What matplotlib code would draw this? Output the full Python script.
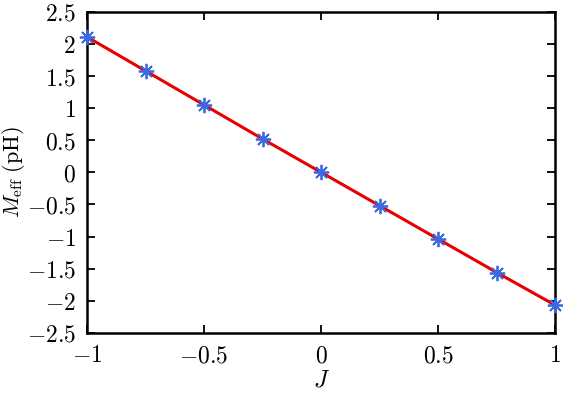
import numpy as np
import matplotlib
matplotlib.use("Agg")
import matplotlib.pyplot as plt
from matplotlib.ticker import FuncFormatter

plt.rcParams["mathtext.fontset"] = "cm"
plt.rcParams["font.family"] = "serif"
plt.rcParams["font.serif"] = ["DejaVu Serif"]

# data
J = [-1, -0.75, -0.5, -0.25, 0, 0.25, 0.5, 0.75, 1]
M_eff = [2.11, 1.58, 1.05, 0.52, 0.0, -0.52, -1.04, -1.56, -2.07]

xticks = [-1, -0.5, 0, 0.5, 1]
yticks = [-2.5, -2, -1.5, -1, -0.5, 0, 0.5, 1, 1.5, 2, 2.5]

fig = plt.figure(figsize=(5.63, 3.94), dpi=100)
ax = fig.add_axes([0.1545, 0.155, 0.832, 0.815])

ax.plot(J, M_eff, color="#e60000", lw=2.2, zorder=2)
ax.plot(J, M_eff, ls="none", marker=(8, 2, 0), ms=11, mew=1.3,
        color="#3d68e0", zorder=3, clip_on=False)

ax.set_xlim(-1, 1)
ax.set_ylim(-2.5, 2.5)
ax.set_xticks(xticks)
ax.set_yticks(yticks)
fmt = FuncFormatter(lambda v, p: "$%g$" % v)
ax.xaxis.set_major_formatter(fmt)
ax.yaxis.set_major_formatter(fmt)
ax.tick_params(direction="in", top=True, right=True, length=6, width=1.3,
               labelsize=17, pad=8)
for s in ax.spines.values():
    s.set_linewidth(1.8)

ax.set_xlabel("$J$", fontsize=17, labelpad=1)
ax.set_ylabel(r"$M_{\rm eff}\ \mathrm{(pH)}$", fontsize=16, labelpad=0)

fig.savefig("out.png", dpi=100)
